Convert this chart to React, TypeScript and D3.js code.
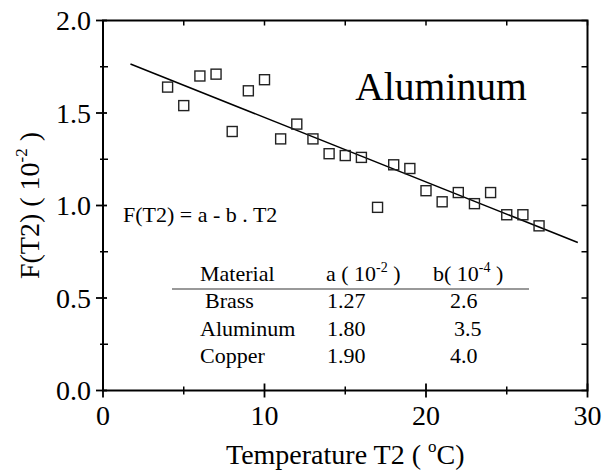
import * as d3 from "d3";

const W = 602;
const H = 474;
const SERIF = "Liberation Serif";

// measured data (temperature, F(T2) in 1e-2)
const temps = [4, 5, 6, 7, 8, 9, 10, 11, 12, 13, 14, 15, 16, 17, 18, 19, 20, 21, 22, 23, 24, 25, 26, 27];
const fValues = [1.64, 1.54, 1.70, 1.71, 1.40, 1.62, 1.68, 1.36, 1.44, 1.36, 1.28, 1.27, 1.26, 0.99, 1.22, 1.20, 1.08, 1.02, 1.07, 1.01, 1.07, 0.95, 0.95, 0.89];

// fitted line end points
const fitX = [1.7, 29.4];
const fitY = [1.765, 0.80];

const xMajor = [0, 10, 20, 30];
const xMinor = [5, 15, 25];
const yMajor = [0, 0.5, 1.0, 1.5, 2.0];
const yMinor = [0.25, 0.75, 1.25, 1.75];

const materials = ["Brass", "Aluminum", "Copper"];
const aValues = ["1.27", "1.80", "1.90"];
const bValues = ["2.6", "3.5", "4.0"];

export default function App() {
  const x = d3.scaleLinear().domain([0, 30]).range([103, 587.5]);
  const y = d3.scaleLinear().domain([0, 2]).range([390.5, 20.5]);
  const [x0, x1] = x.range();
  const [y0, y1] = y.range();

  const line = d3.line<number>()
    .x((_, i) => x(fitX[i]))
    .y((d) => y(d));

  const pts = temps.map((t, i) => ({ t, v: fValues[i] }));
  const sq = 10;

  const rowY = [308, 336, 363];

  return (
    <svg width={W} height={H} style={{ position: "absolute", left: 0, top: 0, background: "#fff" }}>
      <rect width={W} height={H} fill="#fff" />

      {/* fit line */}
      <path d={line(fitY) || ""} fill="none" stroke="#000" strokeWidth={1.5} />

      {/* data squares */}
      {pts.map((p, i) => (
        <rect key={i} x={x(p.t) - sq / 2} y={y(p.v) - sq / 2} width={sq} height={sq}
          fill="none" stroke="#222" strokeWidth={1.4} />
      ))}

      {/* frame */}
      <rect x={x0} y={y1} width={x1 - x0} height={y0 - y1} fill="none" stroke="#000" strokeWidth={2} />

      {/* bottom ticks */}
      {xMajor.map((d) => (
        <line key={"xb" + d} x1={x(d)} x2={x(d)} y1={y0 - 7} y2={y0 + 7} stroke="#000" strokeWidth={1.8} />
      ))}
      {xMinor.map((d) => (
        <line key={"xbm" + d} x1={x(d)} x2={x(d)} y1={y0 - 4} y2={y0 + 4} stroke="#000" strokeWidth={1.5} />
      ))}
      {/* top ticks */}
      {[...xMajor, ...xMinor].map((d) => (
        <line key={"xt" + d} x1={x(d)} x2={x(d)} y1={y1} y2={y1 + 5} stroke="#000" strokeWidth={1.5} />
      ))}
      {/* left ticks */}
      {yMajor.map((d) => (
        <line key={"yl" + d} x1={x0 - 7} x2={x0 + 4} y1={y(d)} y2={y(d)} stroke="#000" strokeWidth={1.8} />
      ))}
      {yMinor.map((d) => (
        <line key={"ylm" + d} x1={x0 - 3} x2={x0 + 5} y1={y(d)} y2={y(d)} stroke="#000" strokeWidth={1.5} />
      ))}
      {/* right ticks */}
      {[...yMajor, ...yMinor].map((d) => (
        <line key={"yr" + d} x1={x1 - 6} x2={x1} y1={y(d)} y2={y(d)} stroke="#000" strokeWidth={1.5} />
      ))}

      {/* tick labels */}
      {xMajor.map((d) => (
        <text key={"xl" + d} fontFamily={SERIF} x={x(d)} y={425} textAnchor="middle" fontSize={28}>{d}</text>
      ))}
      {yMajor.map((d) => (
        <text key={"ylb" + d} fontFamily={SERIF} x={91} y={y(d) + 9.5} textAnchor="end" fontSize={28}>{d.toFixed(1)}</text>
      ))}

      {/* axis titles */}
      <text fontFamily={SERIF} x={(x0 + x1) / 2} y={464} textAnchor="middle" fontSize={28}>
        Temperature T2 ( <tspan fontSize={17} dy={-12}>o</tspan><tspan dy={12}>C)</tspan>
      </text>
      <text fontFamily={SERIF} transform={`translate(39,${(y0 + y1) / 2}) rotate(-90)`} textAnchor="middle" fontSize={28}>
        F(T2) ( 10<tspan fontSize={17} dy={-12}>-2</tspan><tspan dy={12}> )</tspan>
      </text>

      {/* annotations: big label drawn at 30px and scaled (large sizes fall back to sans) */}
      <text fontFamily={SERIF} transform="translate(441,100) scale(1.32)" textAnchor="middle" fontSize={30}>Aluminum</text>
      <text fontFamily={SERIF} x={123} y={222} fontSize={22}>F(T2) = a - b . T2</text>

      {/* table */}
      <text fontFamily={SERIF} x={200} y={281} fontSize={22}>Material</text>
      <text fontFamily={SERIF} x={326} y={281} fontSize={22}>
        a ( 10<tspan fontSize={14} dy={-9}>-2</tspan><tspan dy={9}> )</tspan>
      </text>
      <text fontFamily={SERIF} x={433} y={281} fontSize={22}>
        b( 10<tspan fontSize={14} dy={-9}>-4</tspan><tspan dy={9}> )</tspan>
      </text>
      <line x1={172} x2={529} y1={289} y2={289} stroke="#777" strokeWidth={1.5} />
      {materials.map((m, i) => (
        <g key={m}>
          <text fontFamily={SERIF} x={i === 0 ? 205 : 200} y={rowY[i]} fontSize={22}>{m}</text>
          <text fontFamily={SERIF} x={327} y={rowY[i]} fontSize={22}>{aValues[i]}</text>
          <text fontFamily={SERIF} x={i === 1 ? 454 : 450} y={rowY[i]} fontSize={22}>{bValues[i]}</text>
        </g>
      ))}
    </svg>
  );
}
